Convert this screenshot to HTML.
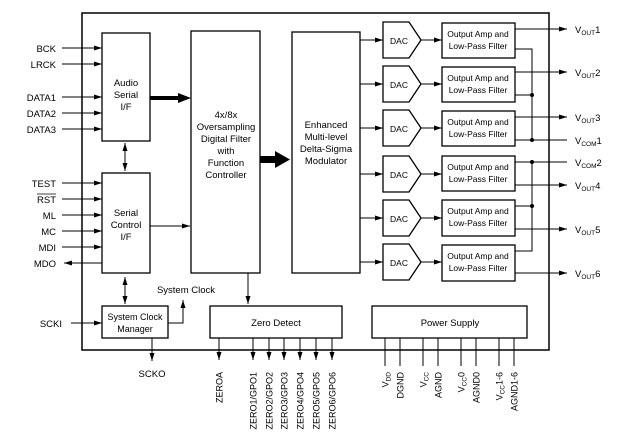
<!DOCTYPE html>
<html><head><style>
html,body{margin:0;padding:0;background:#fff;}
svg{display:block;font-family:"Liberation Sans",Arial,sans-serif;}
</style></head><body>
<svg width="626" height="438" viewBox="0 0 626 438" xmlns="http://www.w3.org/2000/svg">
<defs>
<marker id="a" markerWidth="8" markerHeight="6" refX="8" refY="3" orient="auto" markerUnits="userSpaceOnUse"><path d="M0,0.5 L8,3 L0,5.5 Z" fill="#000"/></marker>
<marker id="as" markerWidth="8" markerHeight="6" refX="0" refY="3" orient="auto" markerUnits="userSpaceOnUse"><path d="M8,0.5 L0,3 L8,5.5 Z" fill="#000"/></marker>
</defs>
<g fill="none" stroke="#000" stroke-width="1">
<rect x="82" y="13" width="467" height="337" stroke-width="1.5"/>
<rect x="102" y="33" width="48" height="108" stroke-width="1.3"/>
<rect x="102" y="173" width="48" height="100" stroke-width="1.3"/>
<rect x="191" y="31" width="69" height="242" stroke-width="1.3"/>
<rect x="292" y="32" width="68" height="241" stroke-width="1.3"/>
<rect x="102" y="306" width="66" height="32" stroke-width="1.3"/>
<rect x="210" y="306" width="132" height="32" stroke-width="1.3"/>
<rect x="372" y="306" width="155" height="32" stroke-width="1.3"/>
</g>
<g fill="none" stroke="#000" stroke-width="1">
<!-- inputs -->
<line x1="62" y1="48" x2="102" y2="48" marker-end="url(#a)"/>
<line x1="62" y1="64" x2="102" y2="64" marker-end="url(#a)"/>
<line x1="62" y1="97" x2="102" y2="97" marker-end="url(#a)"/>
<line x1="62" y1="113" x2="102" y2="113" marker-end="url(#a)"/>
<line x1="62" y1="129" x2="102" y2="129" marker-end="url(#a)"/>
<line x1="62" y1="183" x2="102" y2="183" marker-end="url(#a)"/>
<line x1="62" y1="199" x2="102" y2="199" marker-end="url(#a)"/>
<line x1="62" y1="215" x2="102" y2="215" marker-end="url(#a)"/>
<line x1="62" y1="231" x2="102" y2="231" marker-end="url(#a)"/>
<line x1="62" y1="247" x2="102" y2="247" marker-end="url(#a)"/>
<line x1="102" y1="263" x2="64" y2="263" marker-end="url(#a)"/>
<line x1="125" y1="143" x2="125" y2="171" marker-end="url(#a)" marker-start="url(#as)"/>
<line x1="125" y1="277" x2="125" y2="304" marker-end="url(#a)" marker-start="url(#as)"/>
<line x1="150" y1="226" x2="190" y2="226" marker-end="url(#a)"/>
<line x1="71" y1="323" x2="102" y2="323" marker-end="url(#a)"/>
<polyline points="168,323 183,323 183,300" marker-end="url(#a)"/>
<line x1="152" y1="338" x2="152" y2="361" marker-end="url(#a)"/>
<line x1="248" y1="273" x2="248" y2="304" marker-end="url(#a)"/>
<!-- zero outputs -->
<line x1="219" y1="338" x2="219" y2="360" marker-end="url(#a)"/>
<line x1="253" y1="338" x2="253" y2="360" marker-end="url(#a)"/>
<line x1="269" y1="338" x2="269" y2="360" marker-end="url(#a)"/>
<line x1="284" y1="338" x2="284" y2="360" marker-end="url(#a)"/>
<line x1="300" y1="338" x2="300" y2="360" marker-end="url(#a)"/>
<line x1="316" y1="338" x2="316" y2="360" marker-end="url(#a)"/>
<line x1="332" y1="338" x2="332" y2="360" marker-end="url(#a)"/>
<!-- power pins -->
<line x1="385" y1="338" x2="385" y2="366"/>
<line x1="400" y1="338" x2="400" y2="366"/>
<line x1="423" y1="338" x2="423" y2="366"/>
<line x1="438" y1="338" x2="438" y2="366"/>
<line x1="461" y1="338" x2="461" y2="366"/>
<line x1="476" y1="338" x2="476" y2="366"/>
<line x1="499" y1="338" x2="499" y2="366"/>
<line x1="514" y1="338" x2="514" y2="366"/>
<!-- mod to DAC -->
<line x1="360" y1="40" x2="383" y2="40" marker-end="url(#a)"/>
<line x1="360" y1="84" x2="383" y2="84" marker-end="url(#a)"/>
<line x1="360" y1="128" x2="383" y2="128" marker-end="url(#a)"/>
<line x1="360" y1="174" x2="383" y2="174" marker-end="url(#a)"/>
<line x1="360" y1="218" x2="383" y2="218" marker-end="url(#a)"/>
<line x1="360" y1="262" x2="383" y2="262" marker-end="url(#a)"/>
<!-- DAC to filter -->
<line x1="421" y1="40" x2="442" y2="40" marker-end="url(#a)"/>
<line x1="421" y1="84" x2="442" y2="84" marker-end="url(#a)"/>
<line x1="421" y1="128" x2="442" y2="128" marker-end="url(#a)"/>
<line x1="421" y1="174" x2="442" y2="174" marker-end="url(#a)"/>
<line x1="421" y1="218" x2="442" y2="218" marker-end="url(#a)"/>
<line x1="421" y1="262" x2="442" y2="262" marker-end="url(#a)"/>
<!-- outputs -->
<line x1="515" y1="29" x2="567" y2="29" marker-end="url(#a)"/>
<line x1="515" y1="72" x2="567" y2="72" marker-end="url(#a)"/>
<line x1="515" y1="117" x2="567" y2="117" marker-end="url(#a)"/>
<line x1="515" y1="140" x2="567" y2="140"/>
<line x1="515" y1="162" x2="567" y2="162"/>
<line x1="515" y1="185" x2="567" y2="185" marker-end="url(#a)"/>
<line x1="515" y1="229" x2="567" y2="229" marker-end="url(#a)"/>
<line x1="515" y1="273" x2="567" y2="273" marker-end="url(#a)"/>
<polyline points="515,49 532,49 532,140"/>
<line x1="515" y1="95" x2="532" y2="95"/>
<polyline points="515,251 532,251 532,162"/>
<line x1="515" y1="206" x2="532" y2="206"/>
</g>
<g fill="#000">
<circle cx="532" cy="95" r="2"/><circle cx="532" cy="140" r="2"/>
<circle cx="532" cy="162" r="2"/><circle cx="532" cy="206" r="2"/>
<!-- thick arrows -->
<rect x="150" y="96" width="30" height="4"/><path d="M178,93 L191,98 L178,103 Z"/>
<rect x="260" y="156" width="16" height="7"/><path d="M275,151 L290,159.5 L275,168 Z"/>
</g>
<g fill="#fff" stroke="#000" stroke-width="1.3">
<path d="M383,22 H409 L421,40 L409,58 H383 Z"/>
<path d="M383,66 H409 L421,84 L409,102 H383 Z"/>
<path d="M383,110 H409 L421,128 L409,146 H383 Z"/>
<path d="M383,156 H409 L421,174 L409,192 H383 Z"/>
<path d="M383,200 H409 L421,218 L409,236 H383 Z"/>
<path d="M383,244 H409 L421,262 L409,280 H383 Z"/>
<rect x="442" y="23" width="73" height="35"/>
<rect x="442" y="67" width="73" height="35"/>
<rect x="442" y="111" width="73" height="35"/>
<rect x="442" y="156" width="73" height="35"/>
<rect x="442" y="200" width="73" height="36"/>
<rect x="442" y="245" width="73" height="36"/>
</g>
<g font-size="9.5" fill="#000">
<g text-anchor="end">
<text x="56" y="52">BCK</text><text x="56" y="68">LRCK</text>
<text x="56" y="101">DATA1</text><text x="56" y="117">DATA2</text><text x="56" y="133">DATA3</text>
<text x="56" y="187">TEST</text><text x="56" y="203">RST</text>
<text x="56" y="219">ML</text><text x="56" y="235">MC</text><text x="56" y="251">MDI</text><text x="56" y="267">MDO</text>
<text x="62" y="327">SCKI</text>
</g>
<line x1="37" y1="194" x2="56" y2="194" stroke="#000" stroke-width="0.8"/>
<g text-anchor="middle">
<text x="126" y="86">Audio</text><text x="126" y="98">Serial</text><text x="126" y="110">I/F</text>
<text x="126" y="216">Serial</text><text x="126" y="228">Control</text><text x="126" y="240">I/F</text>
<text x="226" y="118">4x/8x</text><text x="226" y="130">Oversampling</text><text x="226" y="142">Digital Filter</text><text x="226" y="154">with</text><text x="226" y="166">Function</text><text x="226" y="178">Controller</text>
<text x="326" y="128">Enhanced</text><text x="326" y="140">Multi-level</text><text x="326" y="152">Delta-Sigma</text><text x="326" y="164">Modulator</text>
<text x="135" y="320" font-size="9">System Clock</text><text x="135" y="332" font-size="9">Manager</text>
<text x="186" y="293">System Clock</text>
<text x="152" y="377">SCKO</text>
<text x="276" y="326">Zero Detect</text>
<text x="450" y="326">Power Supply</text>
</g>
<g font-size="8.5" text-anchor="middle">
<text x="399" y="44">DAC</text><text x="399" y="88">DAC</text><text x="399" y="132">DAC</text>
<text x="399" y="178">DAC</text><text x="399" y="222">DAC</text><text x="399" y="266">DAC</text>
<text x="478" y="37">Output Amp and</text><text x="478" y="49">Low-Pass Filter</text>
<text x="478" y="81">Output Amp and</text><text x="478" y="93">Low-Pass Filter</text>
<text x="478" y="125">Output Amp and</text><text x="478" y="137">Low-Pass Filter</text>
<text x="478" y="170">Output Amp and</text><text x="478" y="182">Low-Pass Filter</text>
<text x="478" y="214">Output Amp and</text><text x="478" y="226">Low-Pass Filter</text>
<text x="478" y="259">Output Amp and</text><text x="478" y="271">Low-Pass Filter</text>
</g>
<g font-size="9.5">
<text x="575" y="33">V<tspan font-size="6.5" dy="2">OUT</tspan><tspan dy="-2">1</tspan></text>
<text x="575" y="76">V<tspan font-size="6.5" dy="2">OUT</tspan><tspan dy="-2">2</tspan></text>
<text x="575" y="121">V<tspan font-size="6.5" dy="2">OUT</tspan><tspan dy="-2">3</tspan></text>
<text x="575" y="144">V<tspan font-size="6.5" dy="2">COM</tspan><tspan dy="-2">1</tspan></text>
<text x="575" y="166">V<tspan font-size="6.5" dy="2">COM</tspan><tspan dy="-2">2</tspan></text>
<text x="575" y="189">V<tspan font-size="6.5" dy="2">OUT</tspan><tspan dy="-2">4</tspan></text>
<text x="575" y="233">V<tspan font-size="6.5" dy="2">OUT</tspan><tspan dy="-2">5</tspan></text>
<text x="575" y="277">V<tspan font-size="6.5" dy="2">OUT</tspan><tspan dy="-2">6</tspan></text>
</g>
<g font-size="9" text-anchor="end">
<text transform="translate(222.5,372) rotate(-90)">ZEROA</text>
<text transform="translate(256.5,372) rotate(-90)">ZERO1/GPO1</text>
<text transform="translate(272.5,372) rotate(-90)">ZERO2/GPO2</text>
<text transform="translate(287.5,372) rotate(-90)">ZERO3/GPO3</text>
<text transform="translate(303.5,372) rotate(-90)">ZERO4/GPO4</text>
<text transform="translate(319.5,372) rotate(-90)">ZERO5/GPO5</text>
<text transform="translate(335.5,372) rotate(-90)">ZERO6/GPO6</text>
<text transform="translate(388.5,372) rotate(-90)">V<tspan font-size="6.5" dy="2">DD</tspan></text>
<text transform="translate(403.5,372) rotate(-90)">DGND</text>
<text transform="translate(426.5,372) rotate(-90)">V<tspan font-size="6.5" dy="2">CC</tspan></text>
<text transform="translate(441.5,372) rotate(-90)">AGND</text>
<text transform="translate(464.5,372) rotate(-90)">V<tspan font-size="6.5" dy="2">CC</tspan><tspan dy="-2">0</tspan></text>
<text transform="translate(479.5,372) rotate(-90)">AGND0</text>
<text transform="translate(502.5,372) rotate(-90)">V<tspan font-size="6.5" dy="2">CC</tspan><tspan dy="-2">1-6</tspan></text>
<text transform="translate(517.5,372) rotate(-90)">AGND1-6</text>
</g>
</g>
</svg>
</body></html>
